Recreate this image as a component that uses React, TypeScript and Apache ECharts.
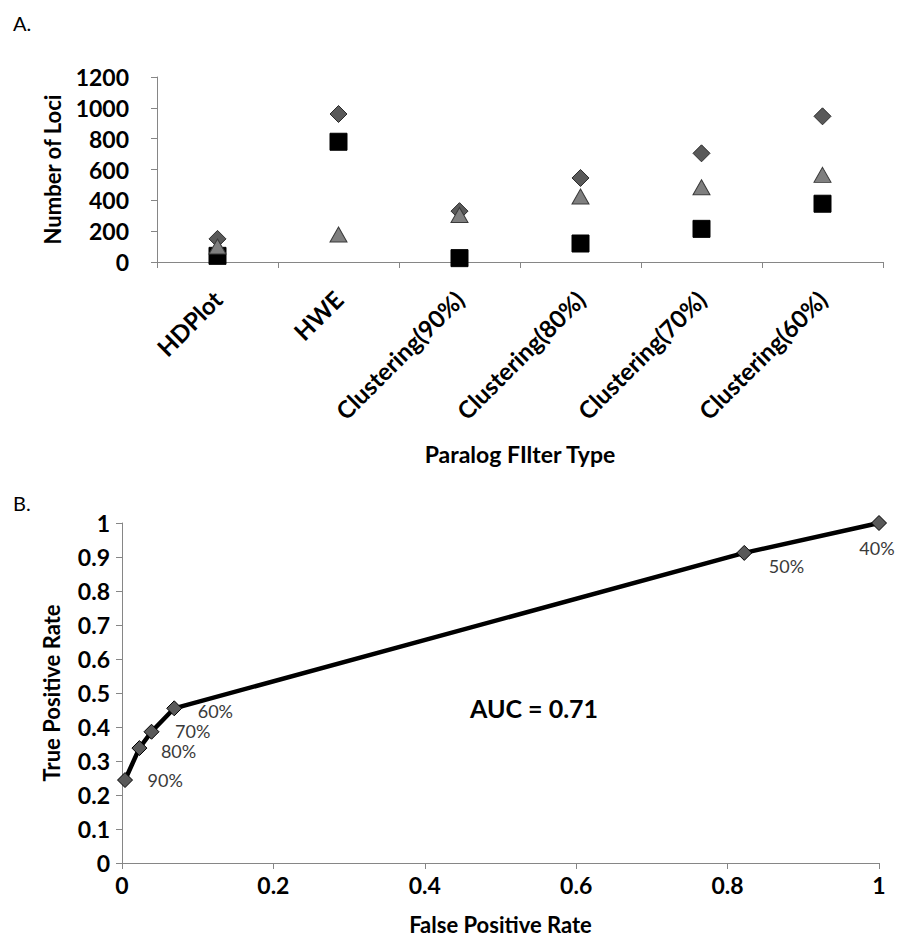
import React, { useEffect, useRef } from "react";
import * as echarts from "echarts";

// Panel A data
const categories = ["HDPlot", "HWE", "Clustering(90%)", "Clustering(80%)", "Clustering(70%)", "Clustering(60%)"];
const diamondValues = [150, 960, 330, 545, 705, 945];
const squareValues = [40, 780, 25, 120, 215, 378];
const triangleValues = [100, 178, 305, 425, 485, 565];
const yTicksA = { min: 0, max: 1200, interval: 200 };

// Panel B data
const fpr = [0.004, 0.023, 0.039, 0.069, 0.822, 1.0];
const tpr = [0.244, 0.338, 0.386, 0.455, 0.912, 1.0];
const thresholdLabels = ["90%", "80%", "70%", "60%", "50%", "40%"];
const aucText = "AUC = 0.71";

// label placement (layout, not data)
const labelPlacement: { position: string; offset: [number, number] }[] = [
  { position: "right", offset: [14.5, 0] },
  { position: "right", offset: [13.5, 3] },
  { position: "right", offset: [15.5, -1] },
  { position: "right", offset: [15.5, 3] },
  { position: "right", offset: [16.5, 13] },
  { position: "bottom", offset: [-2, 8] },
];

const FONT = "Lato";
const AXIS_GRAY = "#868686";

export default function App() {
  const ref = useRef<HTMLDivElement>(null);
  useEffect(() => {
    if (!ref.current) return;
    const chart = echarts.init(ref.current, null, { renderer: "svg" });
    const axisCommon = {
      axisLine: { show: true, lineStyle: { color: AXIS_GRAY, width: 1 } },
      axisTick: { show: true, inside: false, length: 6, lineStyle: { color: AXIS_GRAY } },
      splitLine: { show: false },
    };
    const tickLabel = { fontFamily: FONT, fontWeight: "bold", fontSize: 23, color: "#000" };
    const nameStyle = { fontFamily: FONT, fontWeight: "bold", fontSize: 22, color: "#000" };

    chart.setOption({
      animation: false,
      backgroundColor: "#fff",
      textStyle: { fontFamily: FONT },
      title: [
        { text: "A.", left: 8, top: 8, textStyle: { fontFamily: FONT, fontWeight: "normal", fontSize: 20, color: "#000" } },
        { text: "B.", left: 8, top: 488, textStyle: { fontFamily: FONT, fontWeight: "normal", fontSize: 20, color: "#000" } },
      ],
      grid: [
        { left: 157, right: 16, top: 77, height: 185 },
        { left: 122, right: 20, top: 523, height: 340 },
      ],
      xAxis: [
        {
          gridIndex: 0,
          type: "category",
          data: categories,
          boundaryGap: true,
          ...axisCommon,
          axisTick: { show: true, alignWithLabel: false, length: 6, lineStyle: { color: AXIS_GRAY } },
          axisLabel: { ...tickLabel, fontSize: 24, rotate: 45, margin: 33, interval: 0 },
          name: "Paralog FIlter Type",
          nameLocation: "middle",
          nameGap: 180,
          nameTextStyle: { ...nameStyle, fontSize: 23 },
        },
        {
          gridIndex: 1,
          type: "value",
          min: 0,
          max: 1,
          interval: 0.2,
          ...axisCommon,
          axisLabel: { ...tickLabel, margin: 10 },
          name: "False Positive Rate",
          nameLocation: "middle",
          nameGap: 50,
          nameTextStyle: nameStyle,
        },
      ],
      yAxis: [
        {
          gridIndex: 0,
          type: "value",
          ...yTicksA,
          ...axisCommon,
          axisLabel: { ...tickLabel, margin: 28, formatter: (v: number) => String(v) },
          name: "Number of Loci",
          nameLocation: "middle",
          nameGap: 94,
          nameTextStyle: nameStyle,
        },
        {
          gridIndex: 1,
          type: "value",
          min: 0,
          max: 1,
          interval: 0.1,
          ...axisCommon,
          axisLabel: { ...tickLabel, margin: 12 },
          name: "True Positive Rate",
          nameLocation: "middle",
          nameGap: 60,
          nameTextStyle: nameStyle,
        },
      ],
      series: [
        {
          name: "Series1",
          type: "scatter",
          xAxisIndex: 0,
          yAxisIndex: 0,
          data: diamondValues,
          symbol: "diamond",
          symbolSize: [17, 17],
          itemStyle: { color: "#595959", borderColor: "#2b2b2b", borderWidth: 1, opacity: 1 },
        },
        {
          name: "Series2",
          type: "scatter",
          xAxisIndex: 0,
          yAxisIndex: 0,
          data: squareValues,
          symbol: "rect",
          symbolSize: [17, 17],
          itemStyle: { color: "#000", borderColor: "#000", borderWidth: 1, opacity: 1 },
        },
        {
          name: "Series3",
          type: "scatter",
          xAxisIndex: 0,
          yAxisIndex: 0,
          data: triangleValues,
          symbol: "triangle",
          symbolSize: [17, 15],
          itemStyle: { color: "#7f7f7f", borderColor: "#3a3a3a", borderWidth: 1, opacity: 1 },
        },
        {
          name: "ROC",
          type: "line",
          xAxisIndex: 1,
          yAxisIndex: 1,
          data: fpr.map((x, i) => ({
            value: [x, tpr[i]],
            label: {
              show: true,
              formatter: thresholdLabels[i],
              position: labelPlacement[i].position,
              offset: labelPlacement[i].offset,
              distance: 0,
            },
          })),
          lineStyle: { color: "#000", width: 4.5 },
          symbol: "diamond",
          symbolSize: 15,
          showAllSymbol: true,
          itemStyle: { color: "#595959", borderColor: "#000", borderWidth: 1, opacity: 1 },
          label: { fontFamily: FONT, fontSize: 18, color: "#3a3a3a" },
          z: 3,
        },
      ],
      graphic: [
        {
          type: "text",
          left: 470,
          top: 695,
          style: { text: aucText, fontFamily: FONT, fontWeight: "bold", fontSize: 25, fill: "#000" },
        },
      ],
    });
    return () => chart.dispose();
  }, []);
  return <div ref={ref} style={{ position: "fixed", left: 0, top: 0, width: 899, height: 942 }} />;
}
